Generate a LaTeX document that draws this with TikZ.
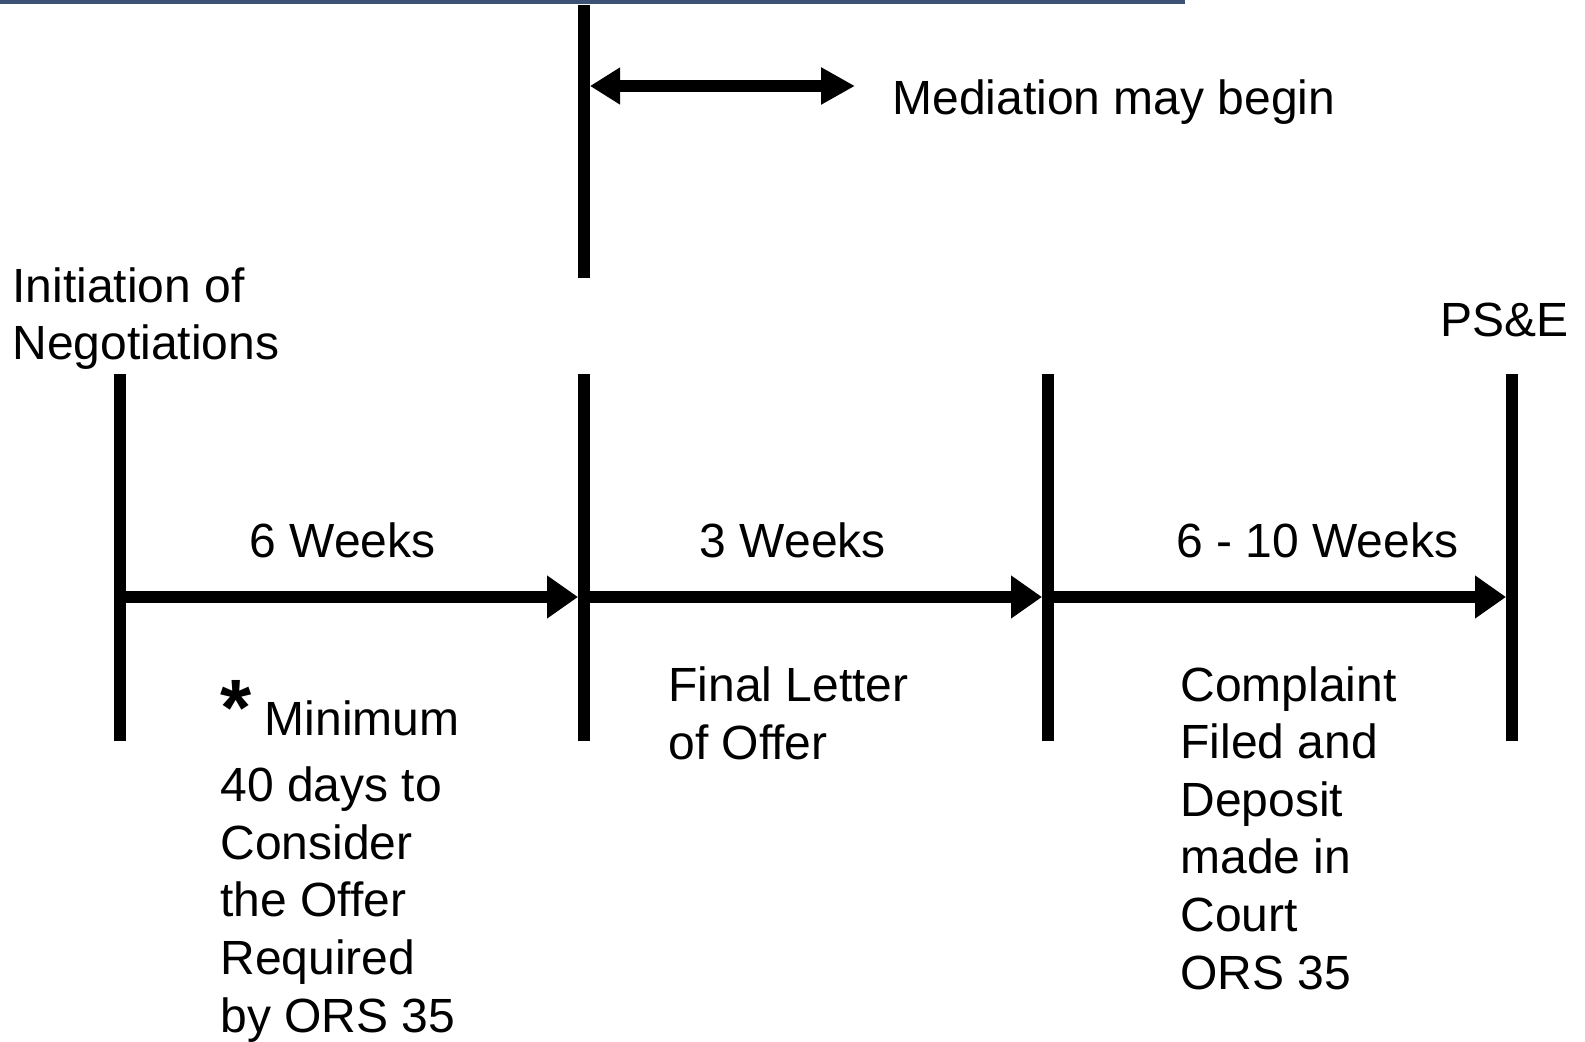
\documentclass[tikz,border=0pt]{standalone}
\usepackage{fontspec}
\setmainfont{Liberation Sans}
\usepackage{tikz}
\usetikzlibrary{positioning,arrows.meta}
\definecolor{barblue}{HTML}{3B5275}

\begin{document}
\begin{tikzpicture}[
        x=0.5pt, y=-0.5pt,
        bar/.style  = {line width=6pt},
        span/.style = {line width=6pt, -{Triangle[length=15.5pt,width=20.5pt]}, shorten >=3pt},
        both/.style = {line width=6pt, {Triangle[length=15pt,width=17.5pt]}-{Triangle[length=17pt,width=17.5pt]}, shorten <=3pt},
        wk/.style   = {anchor=base, yshift=19.5pt},
        txt/.style  = {inner sep=0pt, align=left},
        font = \fontsize{24}{28.8}\selectfont
    ]
    \useasboundingbox (0,0) rectangle (1585,1042);
    \fill[barblue] (0,0) rectangle (1185,4);

    % milestones on the time line
    \coordinate (t1) at (120,597);
    \coordinate (t2) at (584,597);
    \coordinate (t3) at (1048,597);
    \coordinate (t4) at (1512,597);
    \foreach \t in {t1,t2,t3,t4}
        \draw[bar] (\t) ++(0,-223) -- ++(0,367);

    % mediation marker
    \coordinate (top a) at (584,5);
    \coordinate (top b) at (584,278);
    \coordinate (med) at (584,86);
    \coordinate (med end) at (855,86);
    \draw[bar] (top a) -- (top b);
    \draw[both] (med) -- (med end);
    \node[txt, anchor=base west] (medtxt) at (892,115) {Mediation may begin};

    \draw[span] (t1) -- node[wk, pos=0.48] (w1) {6 Weeks} (t2);
    \draw[span] (t2) -- node[wk, pos=0.45] (w2) {3 Weeks} (t3);
    \draw[span] (t3) -- node[wk, pos=0.58] (w3) {6 - 10 Weeks} (t4);

    % base anchor = baseline of the last line
    \node[txt, anchor=base west] (start) at (12,360) {Initiation of\\Negotiations};
    \node[txt, anchor=base east] (pse) at (1569,337) {PS\&E};

    \node[txt, anchor=base west] (consider) at (220,1032)
        {{\fontsize{40}{40}\selectfont\bfseries *} Minimum\\[4.2pt]40 days to\\Consider\\the Offer\\Required\\by ORS 35};
    \node[txt, anchor=base west] (final) at (668,759) {Final Letter\\of Offer};
    \node[txt, anchor=base west] (court) at (1180,989)
        {Complaint\\Filed and\\Deposit\\made in\\Court\\ORS 35};
\end{tikzpicture}
\end{document}
